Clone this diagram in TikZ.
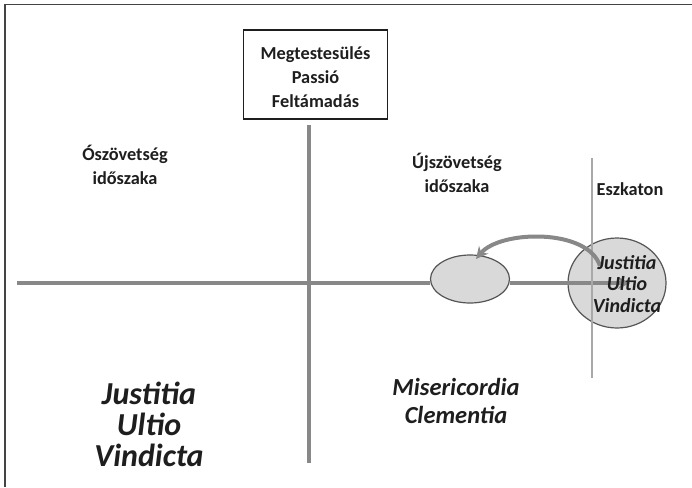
\documentclass[tikz,border=0pt]{standalone}
\usepackage{fontspec}
\setmainfont{Carlito}
\usetikzlibrary{arrows.meta,shapes.geometric}
\definecolor{txt}{HTML}{1E1E1E}
\definecolor{axisc}{HTML}{888888}
\definecolor{eszc}{HTML}{A8A8A8}
\definecolor{ellfill}{HTML}{D9D9D9}
\definecolor{ellline}{HTML}{555555}
\definecolor{framec}{HTML}{444444}
\tikzset{
  lbl/.style={text=txt, font=\bfseries\fontsize{18.3}{24}\selectfont, align=center, inner sep=0pt},
  biglbl/.style={text=txt, font=\bfseries\itshape\fontsize{32}{31}\selectfont, align=center, inner sep=0pt},
  midlbl/.style={text=txt, font=\bfseries\itshape\fontsize{24.5}{28}\selectfont, align=center, inner sep=0pt},
  elllbl/.style={text=txt, font=\bfseries\itshape\fontsize{20}{21.5}\selectfont, align=center, inner sep=0pt},
  boxnode/.style={draw=txt, line width=1.3pt, minimum width=144pt, minimum height=89pt, inner sep=0pt},
  axisline/.style={draw=axisc, line width=4pt},
  ellnode/.style={ellipse, draw=ellline, fill=ellfill, line width=1.2pt, inner sep=0pt},
  framel/.style={draw=framec, line width=1.6pt},
}
\begin{document}
\begin{tikzpicture}[x=1pt,y=-1pt]
\useasboundingbox (0,0) rectangle (692,487);
\fill[white] (0,0) rectangle (692,487);
% frame
\coordinate (fbl) at (5,487);
\coordinate (ftl) at (5,4.5);
\coordinate (ftr) at (692,4.5);
\draw[framel] (fbl) -- (ftl) -- (ftr);
% box
\node[boxnode] (box) at (315.5,74.5) {};
\node[lbl] (boxtext) at (315.5,77) {Megtestesülés\\Passió\\Feltámadás};
% vertical axis
\coordinate (vtop) at (309,125);
\coordinate (vbot) at (309,463);
\draw[axisline] (vtop) -- (vbot);
% ellipses
\coordinate (hleft) at (17,283);
\node[ellnode, minimum width=79pt, minimum height=48pt] (small) at (470,279) {};
\node[ellnode, minimum width=98pt, minimum height=90pt] (big) at (617,283) {};
\draw[axisline] (hleft) -- (small.west |- hleft);
\coordinate (harrow) at (630,283);
\draw[axisline, -{Stealth[length=12pt,width=12pt]}] (small.east |- hleft) -- (harrow);
% eszkaton line
\coordinate (etop) at (592,158);
\coordinate (ebot) at (592,378);
\draw[draw=eszc, line width=2pt] (etop) -- (ebot);
% curved arrow
\coordinate (cstart) at (600,266);
\coordinate (cend) at (476,259);
\draw[axisline, -{Stealth[length=12pt,width=12pt]}] (cstart) .. controls (588,228) and (500,230) .. (cend);
% labels
\node[lbl] (osz) at (125,165) {Ószövetség\\időszaka};
\node[lbl] (ujsz) at (457,173) {Újszövetség\\időszaka};
\node[lbl] (eszk) at (630,189) {Eszkaton};
\node[elllbl] (elltext) at (627,284) {Justitia\\Ultio\\Vindicta};
\node[biglbl] (bltext) at (149,424) {Justitia\\Ultio\\Vindicta};
\node[midlbl] (mctext) at (456,401) {Misericordia\\Clementia};
\end{tikzpicture}
\end{document}
